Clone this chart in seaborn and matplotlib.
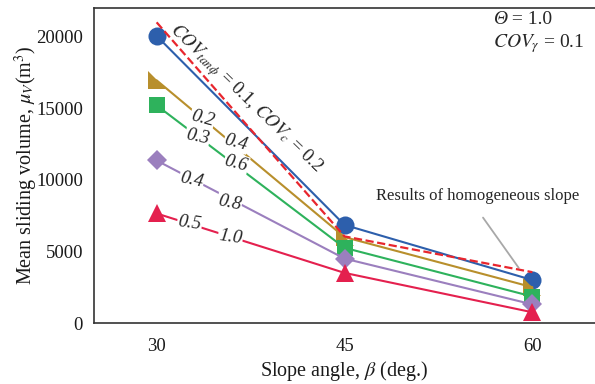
import numpy as np
import pandas as pd
import matplotlib
matplotlib.use("Agg")
import matplotlib.pyplot as plt
from matplotlib.path import Path
import seaborn as sns

# ---- data ----
slope_angles = [30, 45, 60]
series_names = ["0.1/0.2", "0.2/0.4", "0.3/0.6", "0.4/0.8", "0.5/1.0"]
vol_cov01 = [20050, 6850, 3000]
vol_cov02 = [16950, 6000, 2500]
vol_cov03 = [15200, 5250, 1850]
vol_cov04 = [11350, 4500, 1300]
vol_cov05 = [7650, 3500, 750]
vol_homog = [21000, 6050, 3550]

x_ticks = [30, 45, 60]
y_ticks = [0, 5000, 10000, 15000, 20000]

colors = ["#2D5FAC", "#B88F2C", "#2EB25C", "#9B7FBE", "#E4204E"]
homog_color = "#E8262E"

# custom right-triangle marker (right angle at bottom-left)
rtri = Path([(-1, 1), (-1, -1), (1, -1), (-1, 1)],
            [Path.MOVETO, Path.LINETO, Path.LINETO, Path.CLOSEPOLY])
markers = ["o", rtri, "s", "D", "^"]
msizes = [13, 12.5, 11.5, 10, 13]

sns.set_theme(style="white")
plt.rcParams["font.family"] = ["Liberation Serif", "DejaVu Serif"]
plt.rcParams["mathtext.fontset"] = "stix"

fig = plt.figure(figsize=(5.95, 3.84), dpi=100)
ax = fig.add_axes([94 / 595, 1 - 323 / 384, 1 - 94 / 595, (323 - 8) / 384])

all_vals = [vol_cov01, vol_cov02, vol_cov03, vol_cov04, vol_cov05]
for vals, c, m, ms in zip(all_vals, colors, markers, msizes):
    sns.lineplot(x=slope_angles, y=vals, color=c, marker=m, markersize=ms,
                 markeredgewidth=0, linewidth=1.5, ax=ax, zorder=3)
sns.lineplot(x=slope_angles, y=vol_homog, color=homog_color, linewidth=1.6,
             dashes=(5, 3), linestyle="--", ax=ax, zorder=4)

ax.set_xlim(25, 65)
ax.set_ylim(0, 22000)
ax.set_xticks(x_ticks)
ax.set_yticks(y_ticks)
ax.tick_params(direction="in", length=5, width=1.1, colors="#333333",
               labelsize=13.5, labelcolor="#1a1a1a", pad=8)
ax.tick_params(axis="x", pad=11)
for s in ["left", "bottom", "top"]:
    ax.spines[s].set_color("#333333")
    ax.spines[s].set_linewidth(1.2)
ax.spines["right"].set_visible(False)

ax.set_xlabel(r"Slope angle, $\beta$ (deg.)", fontsize=14.5, color="#1a1a1a", labelpad=3)
ax.set_ylabel(r"Mean sliding volume, $\mu_V$(m$^3$)", fontsize=14.5, color="#1a1a1a", labelpad=-3)

# line labels
bbox = dict(fc="white", ec="none", pad=0.6)
ax.text(37.1, 15650, r"$COV_{tan\phi}$ = 0.1, $COV_c$ = 0.2", rotation=-44,
        ha="center", va="center", fontsize=13.5, zorder=5)
lbls = [
    ("0.2", 33.66, 14300, -15), ("0.4", 36.36, 12600, -15),
    ("0.3", 33.26, 12960, -12), ("0.6", 36.36, 11150, -15),
    ("0.4", 32.78, 9960, -12), ("0.8", 35.81, 8360, -12),
    ("0.5", 32.63, 6970, -8), ("1.0", 35.89, 5990, -8),
]
for t, x, y, r in lbls:
    ax.text(x, y, t, rotation=r, ha="center", va="center", fontsize=13.5,
            style="italic", bbox=bbox, zorder=6)

t1 = ax.text(0.796, 0.962, "Θ", transform=ax.transAxes, style="italic",
             ha="left", va="center", fontsize=14)
ax.annotate(" = 1.0", xy=(1, 0.5), xycoords=t1, ha="left", va="center",
            fontsize=14)
ax.text(0.796, 0.886, r"$COV_\gamma$ = 0.1", transform=ax.transAxes,
        ha="left", va="center", fontsize=14)

ax.text(55.62, 8850, "Results of homogeneous slope", ha="center", va="center",
        fontsize=12)
ax.annotate("", xy=(59.04, 3690), xytext=(55.93, 7520),
            arrowprops=dict(arrowstyle="-", color="#a8a8a8", lw=1.3))

fig.savefig("out.png", dpi=100)
